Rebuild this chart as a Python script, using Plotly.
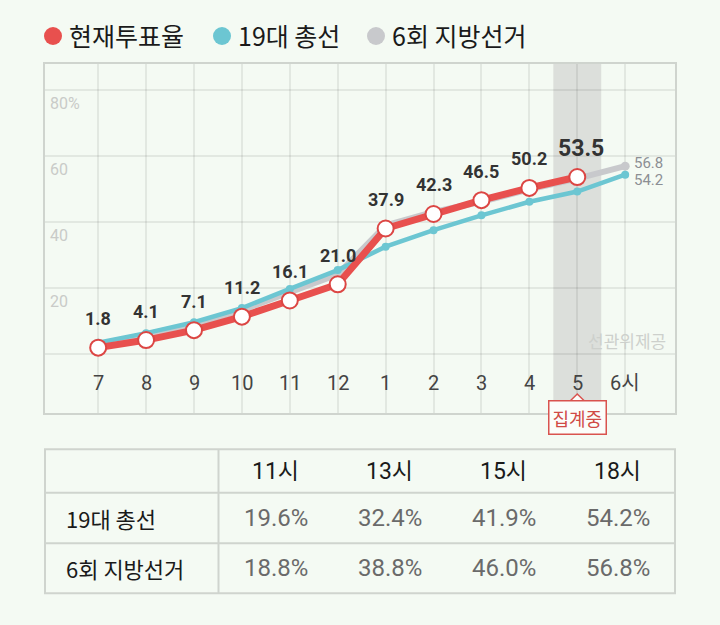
import plotly.graph_objects as go

# hours on the x axis (7시 ~ 18시)
hours = [7, 8, 9, 10, 11, 12, 13, 14, 15, 16, 17, 18]
hour_labels = ["7", "8", "9", "10", "11", "12", "1", "2", "3", "4", "5", "6시"]

# 현재투표율 (up to 17시)
now_hours = [7, 8, 9, 10, 11, 12, 13, 14, 15, 16, 17]
now_rate = [1.8, 4.1, 7.1, 11.2, 16.1, 21.0, 37.9, 42.3, 46.5, 50.2, 53.5]

# 19대 총선 / 6회 지방선거
general_19 = [3.3, 6.2, 9.5, 13.8, 19.6, 25.3, 32.4, 37.4, 41.9, 46.0, 49.1, 54.2]
local_6 = [2.7, 5.6, 8.9, 13.2, 18.8, 24.0, 38.8, 42.9, 46.0, 49.8, 53.0, 56.8]

y_ticks = [20, 40, 60, 80]
y_tick_text = ["20", "40", "60", "80%"]

# table below the chart
table_cols = ["11시", "13시", "15시", "18시"]
table_rows = ["19대 총선", "6회 지방선거"]
table_vals = [["19.6%", "32.4%", "41.9%", "54.2%"],
              ["18.8%", "38.8%", "46.0%", "56.8%"]]

RED = "#e8504e"
CYAN = "#6cc6d2"
GRAY = "#c8c9cc"
BG = "#f4faf3"
LINE = "#cfd4ce"
FONT = "Roboto, Noto Sans CJK KR, sans-serif"
KFONT = "Noto Sans CJK KR, sans-serif"

W, H = 720, 625
X_MIN, X_MAX = 5.89, 19.04
Y_MIN, Y_MAX = -18.0, 87.9


def px_x(p):
    return p / W


def px_y(p):
    return 1 - p / H


def paper_text(x, y, text, font, xanchor="center"):
    return dict(x=x, y=y, xref="paper", yref="paper", text=text, showarrow=False,
                xanchor=xanchor, yanchor="middle", font=font)


fig = go.Figure()

fig.add_trace(go.Scatter(
    x=hours, y=local_6, mode="lines+markers",
    line=dict(color=GRAY, width=6), marker=dict(size=9, color=GRAY),
    hoverinfo="skip", showlegend=False, cliponaxis=False))

fig.add_trace(go.Scatter(
    x=hours, y=general_19, mode="lines+markers",
    line=dict(color=CYAN, width=4.5), marker=dict(size=8, color=CYAN),
    hoverinfo="skip", showlegend=False, cliponaxis=False))

fig.add_trace(go.Scatter(
    x=now_hours, y=now_rate, mode="lines+markers",
    line=dict(color=RED, width=7),
    marker=dict(size=16, color="white", line=dict(color="#dc4644", width=2)),
    hoverinfo="skip", showlegend=False, cliponaxis=False))

annotations = []

# value labels above current turnout points
for i, (h, v) in enumerate(zip(now_hours, now_rate)):
    last = i == len(now_rate) - 1
    annotations.append(dict(
        x=h, y=v, text="<b>%.1f</b>" % v, showarrow=False,
        xanchor="center", yanchor="middle",
        yshift=29, xshift=4 if last else 0,
        font=dict(family=FONT, size=23 if last else 18, color="#333333")))

# end labels for past elections
annotations.append(dict(x=hours[-1], y=local_6[-1], text="%.1f" % local_6[-1],
                        showarrow=False, xanchor="left", yanchor="middle",
                        xshift=7, yshift=3,
                        font=dict(family=FONT, size=15, color="#8c8f94")))
annotations.append(dict(x=hours[-1], y=general_19[-1], text="%.1f" % general_19[-1],
                        showarrow=False, xanchor="left", yanchor="middle",
                        xshift=7, yshift=-5,
                        font=dict(family=FONT, size=15, color="#8c8f94")))

# x tick labels (inside plot)
for h, t in zip(hours, hour_labels):
    annotations.append(dict(x=h, y=0, text=t, showarrow=False, yshift=-29,
                            xanchor="center", yanchor="middle",
                            font=dict(family=FONT, size=20, color="#444444")))

# y tick labels (inside plot, under the grid line)
for v, t in zip(y_ticks, y_tick_text):
    annotations.append(dict(x=X_MIN, y=v, text=t, showarrow=False,
                            xanchor="left", yanchor="middle", xshift=3, yshift=-14,
                            font=dict(family=FONT, size=16, color="#c9cbc8")))

annotations.append(dict(x=X_MAX, y=4, text="선관위제공", showarrow=False,
                        xanchor="right", yanchor="middle", xshift=-7,
                        font=dict(family=KFONT, size=17, color="#cdd0cc")))

annotations.append(dict(x=17, y=px_y(418), yref="paper", text="집계중",
                        showarrow=False, xanchor="center", yanchor="middle",
                        bgcolor="#fbfdfa", bordercolor="#d9534f",
                        borderwidth=1.5, borderpad=3,
                        font=dict(family=KFONT, size=18, color="#d04a45")))

shapes = [
    # 집계중 band
    dict(type="rect", xref="x", yref="y domain", x0=16.5, x1=17.5, y0=0, y1=1,
         fillcolor="#dcdfdb", line=dict(width=0), layer="below"),
    # notch of the 집계중 box
    dict(type="path", xref="x", yref="paper",
         path="M 16.85 %f L 17 %f L 17.15 %f" % (px_y(401), px_y(394), px_y(401)),
         line=dict(color="#d9534f", width=1.5), fillcolor="#fbfdfa", layer="above"),
]

# legend: coloured dot + name
legend_items = [("현재투표율", RED, 53), ("19대 총선", CYAN, 222), ("6회 지방선거", GRAY, 376)]
for name, color, cx in legend_items:
    shapes.append(dict(type="circle", xref="paper", yref="paper",
                       xsizemode="pixel", ysizemode="pixel",
                       xanchor=px_x(cx), yanchor=px_y(36),
                       x0=-9, x1=9, y0=-9, y1=9,
                       fillcolor=color, line=dict(width=0)))
    annotations.append(paper_text(px_x(cx + 14), px_y(35), name,
                                  dict(family=KFONT, size=25, color="#1a1a1a"),
                                  xanchor="left"))

# table
t_left, t_right, t_sep = px_x(45), px_x(675), px_x(218.5)
row_edges = [px_y(449.3), px_y(492.7), px_y(543.3), px_y(593.3)]
col_w = (t_right - t_sep) / len(table_cols)

for j, c in enumerate(table_cols):
    annotations.append(paper_text(t_sep + col_w * (j + 0.5), (row_edges[0] + row_edges[1]) / 2,
                                  c, dict(family=FONT, size=23, color="#1a1a1a")))
for i, r in enumerate(table_rows):
    yc = (row_edges[i + 1] + row_edges[i + 2]) / 2
    annotations.append(paper_text(px_x(64), yc, r,
                                  dict(family=KFONT, size=22, color="#1a1a1a"),
                                  xanchor="left"))
    for j, v in enumerate(table_vals[i]):
        annotations.append(paper_text(t_sep + col_w * (j + 0.5), yc, v,
                                      dict(family=FONT, size=24, color="#6a6a6a")))

shapes.append(dict(type="rect", xref="paper", yref="paper", x0=t_left, x1=t_right,
                   y0=row_edges[-1], y1=row_edges[0], line=dict(color=LINE, width=2)))
shapes.append(dict(type="line", xref="paper", yref="paper", x0=t_sep, x1=t_sep,
                   y0=row_edges[-1], y1=row_edges[0], line=dict(color=LINE, width=2)))
for e in row_edges[1:3]:
    shapes.append(dict(type="line", xref="paper", yref="paper", x0=t_left, x1=t_right,
                       y0=e, y1=e, line=dict(color=LINE, width=2)))

fig.update_layout(
    width=W, height=H,
    margin=dict(l=0, r=0, t=0, b=0),
    paper_bgcolor=BG, plot_bgcolor=BG,
    showlegend=False,
    annotations=annotations,
    shapes=shapes,
    xaxis=dict(domain=[px_x(45), px_x(675)], range=[X_MIN, X_MAX],
               tickvals=hours, showticklabels=False, ticks="",
               showgrid=True, gridcolor="rgba(0,0,0,0.07)", gridwidth=1.5,
               zeroline=False, showline=True, mirror=True,
               linecolor=LINE, linewidth=2, fixedrange=True),
    yaxis=dict(domain=[px_y(413), px_y(63.5)], range=[Y_MIN, Y_MAX],
               tickvals=[0] + y_ticks, showticklabels=False, ticks="",
               showgrid=True, gridcolor="rgba(0,0,0,0.07)", gridwidth=1.5,
               zeroline=False, showline=True, mirror=True,
               linecolor=LINE, linewidth=2, fixedrange=True),
)

# drop the default page margin so the figure fills the window
fig.write_html("out.html",
               config={"displayModeBar": False},
               post_script="document.body.style.margin='0';"
                           "document.body.style.background='%s';" % BG)
